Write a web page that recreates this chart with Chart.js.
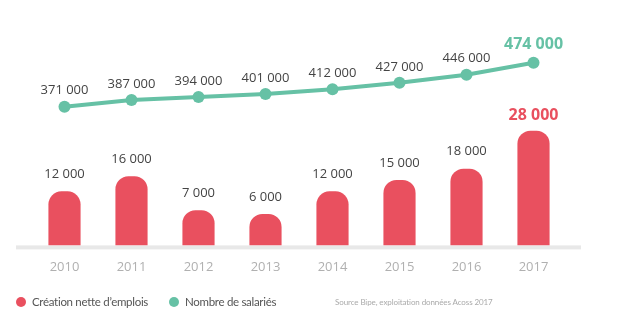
<!DOCTYPE html>
<html>
<head>
<meta charset="utf-8">
<script src="https://cdn.jsdelivr.net/npm/chart.js@4.4.0/dist/chart.umd.min.js"></script>
<style>
body { margin: 0; background: #fff; }
#wrap { position: relative; width: 620px; height: 336px; }
.legendItem { position: absolute; top: 295px; font-family: Lato, sans-serif; font-size: 11.5px; letter-spacing: -0.3px; color: #555; display: flex; align-items: center; white-space: nowrap; }
.dot { width: 10px; height: 10px; border-radius: 50%; margin-right: 6px; }
.source { position: absolute; left: 335px; top: 297px; font-family: Lato, sans-serif; font-size: 8px; letter-spacing: -0.1px; color: #aaa; white-space: nowrap; }
</style>
</head>
<body>
<div id="wrap">
    <canvas id="chart" width="620" height="336"></canvas>
    <div class="legendItem" style="left:16px"><span class="dot" style="background:#e9505f"></span>Création nette d’emplois</div>
    <div class="legendItem" style="left:169px"><span class="dot" style="background:#66c1a5"></span>Nombre de salariés</div>
    <div class="source">Source Bipe, exploitation données Acoss 2017</div>
</div>
<script>
var years = ['2010', '2011', '2012', '2013', '2014', '2015', '2016', '2017'];
var creationEmplois = [12000, 16000, 7000, 6000, 12000, 15000, 18000, 28000];
var nombreSalaries = [371000, 387000, 394000, 401000, 412000, 427000, 446000, 474000];

var red = '#e9505f';
var green = '#66c1a5';

function formatNumber(v) {
    return String(v).replace(/\B(?=(\d{3})+(?!\d))/g, ' ');
}

// grey baseline + value labels above bars and points
var valueLabels = {
    id: 'valueLabels',
    beforeDatasetsDraw(chart) {
        let ctx = chart.ctx, area = chart.chartArea;
        ctx.save();
        ctx.fillStyle = '#e8e8e8';
        ctx.fillRect(area.left - 15, area.bottom, area.right - area.left + 29, 4);
        ctx.restore();
    },
    afterDatasetsDraw(chart) {
        let ctx = chart.ctx;
        ctx.save();
        ctx.textAlign = 'center';
        ctx.textBaseline = 'middle';
        chart.data.datasets.forEach((ds, i) => {
            let meta = chart.getDatasetMeta(i);
            meta.data.forEach((el, j) => {
                let last = j == ds.data.length - 1;
                let isBar = ds.type == 'bar';
                if (last) {
                    ctx.font = 'bold 16px "Open Sans"';
                    ctx.fillStyle = isBar ? red : green;
                } else {
                    ctx.font = '13px "Open Sans"';
                    ctx.fillStyle = '#444';
                }
                let off = isBar ? (last ? 15 : 17) : (last ? 18 : 16);
                ctx.fillText(formatNumber(ds.data[j]), el.x, el.y - off);
            });
        });
        ctx.restore();
    }
};

var chartConfig = {
    data: {
        labels: years,
        datasets: [
            {
                type: 'line',
                label: 'Nombre de salariés',
                data: nombreSalaries,
                yAxisID: 'y2',
                borderColor: green,
                backgroundColor: green,
                pointBackgroundColor: green,
                pointBorderWidth: 0,
                pointRadius: 6,
                borderWidth: 4,
                tension: 0,
                order: 0
            },
            {
                type: 'bar',
                label: 'Création nette d’emplois',
                data: creationEmplois,
                yAxisID: 'y',
                backgroundColor: red,
                borderRadius: 13,
                borderSkipped: 'start',
                base: -2300,
                categoryPercentage: 1,
                barPercentage: 0.48,
                order: 1
            }
        ]
    },
    options: {
        responsive: false,
        animation: false,
        layout: {
            padding: { left: 31, right: 53, top: 20, bottom: 47 }
        },
        plugins: {
            legend: { display: false },
            tooltip: { enabled: false }
        },
        scales: {
            x: {
                grid: { display: false, drawTicks: false },
                border: { display: false },
                ticks: {
                    color: '#b0b0b0',
                    padding: 14,
                    font: { family: 'Open Sans', size: 13 }
                }
            },
            y: {
                display: false,
                min: -2300,
                max: 57300
            },
            y2: {
                display: false,
                min: 45500,
                max: 574500
            }
        }
    },
    plugins: [valueLabels]
};

var chart = new Chart(document.getElementById('chart'), chartConfig);
</script>
</body>
</html>
